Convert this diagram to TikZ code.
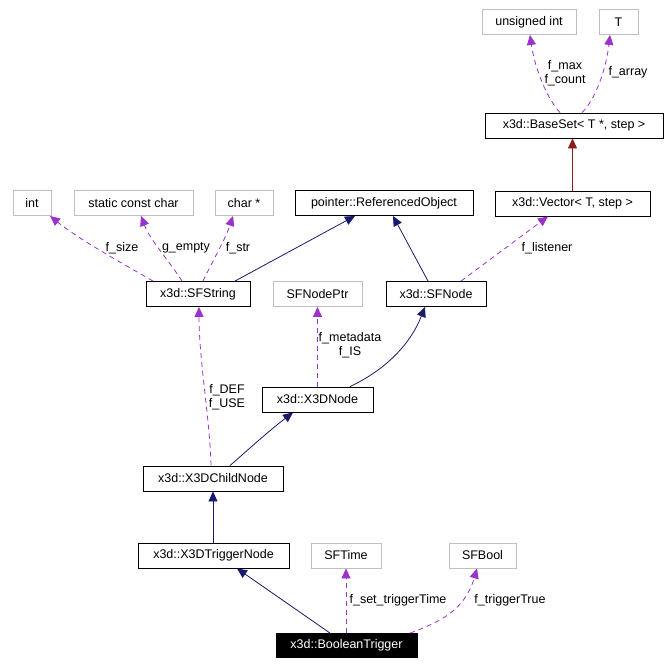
\documentclass[tikz,border=0pt]{standalone}
\usepackage{fontspec}
\setmainfont{Liberation Sans}
\usetikzlibrary{arrows.meta}
\definecolor{navyline}{HTML}{191970}
\definecolor{purpline}{HTML}{9A32CD}
\definecolor{redline}{HTML}{8B1A1A}
\definecolor{grayline}{HTML}{BFBFBF}
\begin{document}
\begin{tikzpicture}[x=1pt,y=-1pt,
  font=\fontsize{12.5}{14}\selectfont,
  box/.style={draw=black,line width=0.9pt,minimum height=25pt,inner sep=0pt,anchor=center},
  gbox/.style={box,draw=grayline},
  inh/.style={draw=navyline,line width=0.8pt,-{Triangle[length=10pt,width=9pt]}},
  inhred/.style={draw=redline,line width=0.8pt,-{Triangle[length=10pt,width=9pt]}},
  usage/.style={draw=purpline,line width=0.8pt,dash pattern=on 5pt off 4pt,-{Triangle[length=10pt,width=9pt]}},
  lbl/.style={align=center,inner sep=0pt,font=\fontsize{12.5}{14}\selectfont}]
\useasboundingbox (0,0) rectangle (668,666);
% nodes
\node[gbox,minimum width=94pt] (uint) at (529,22) {unsigned int};
\node[gbox,minimum width=39pt] (T) at (618.5,22) {T};
\node[box,minimum width=178pt] (baseset) at (574,125.5) {x3d::BaseSet< T *, step >};
\node[box,minimum width=155pt] (vector) at (572.5,203.5) {x3d::Vector< T, step >};
\node[gbox,minimum width=38pt] (int) at (32,203) {int};
\node[gbox,minimum width=119pt] (scc) at (133.5,203) {static const char};
\node[gbox,minimum width=58pt] (charp) at (244,203) {char *};
\node[box,minimum width=178pt] (refobj) at (384,203) {pointer::ReferencedObject};
\node[box,minimum width=104pt] (sfstring) at (198,294) {x3d::SFString};
\node[gbox,minimum width=89pt] (sfnodeptr) at (317.5,294) {SFNodePtr};
\node[box,minimum width=100pt] (sfnode) at (436,294) {x3d::SFNode};
\node[box,minimum width=111pt] (x3dnode) at (317.5,399.5) {x3d::X3DNode};
\node[box,minimum width=140pt] (x3dchild) at (213,478.5) {x3d::X3DChildNode};
\node[box,minimum width=151pt] (trig) at (213.5,555.5) {x3d::X3DTriggerNode};
\node[gbox,minimum width=70pt] (sftime) at (346,555.5) {SFTime};
\node[gbox,minimum width=67pt] (sfbool) at (482.5,555.5) {SFBool};
\node[box,minimum width=141pt,minimum height=24pt,fill=black,text=white] (bt) at (346.5,645.5) {x3d::BooleanTrigger};
% edges
\draw[inhred] (vector.north) -- (vector.north |- baseset.south);
\draw[usage] ([xshift=-14pt]baseset.north) .. controls (548,100) and (535,70) .. ([xshift=1pt]uint.south);
\draw[usage] ([xshift=8pt]baseset.north) .. controls (595,100) and (606,70) .. ([xshift=-8.5pt]T.south);
\node[lbl] (lmax) at (565,73) {f\_max\\f\_count};
\node[lbl] (larr) at (628,72) {f\_array};
\draw[inh] ([xshift=37pt]sfstring.north) -- ([xshift=-29pt]refobj.south);
\draw[inh] ([xshift=-8pt]sfnode.north) -- ([xshift=9pt]refobj.south);
\draw[usage] ([xshift=25pt]sfnode.north) -- ([xshift=-24.5pt]vector.south);
\node[lbl] (llis) at (547,248) {f\_listener};
\draw[usage] ([xshift=-45pt]sfstring.north) .. controls (120,262) and (80,240) .. ([xshift=18pt]int.south);
\node[lbl] (lsize) at (122,248) {f\_size};
\draw[usage] ([xshift=-16pt]sfstring.north) .. controls (170,262) and (150,240) .. ([xshift=7.5pt]scc.south);
\node[lbl] (lempty) at (186,248) {g\_empty};
\draw[usage] ([xshift=5pt]sfstring.north) .. controls (212,262) and (225,240) .. ([xshift=-11pt]charp.south);
\node[lbl] (lstr) at (238,248) {f\_str};
\draw[usage] (x3dnode.north -| sfnodeptr.south) -- (sfnodeptr.south);
\node[lbl] (lmeta) at (350,345) {f\_metadata\\f\_IS};
\draw[inh] ([xshift=32.5pt]x3dnode.north) .. controls (385,370) and (410,345) .. ([xshift=-11pt]sfnode.south);
\draw[usage] ([xshift=-2pt]x3dchild.north) .. controls (210,420) and (199,360) .. ([xshift=1pt]sfstring.south);
\node[lbl] (ldef) at (227,397.5) {f\_DEF\\f\_USE};
\draw[inh] ([xshift=17pt]x3dchild.north) .. controls (250,448) and (270,430) .. ([xshift=-24.5pt]x3dnode.south);
\draw[inh] (trig.north -| x3dchild.south) -- (x3dchild.south);
\draw[inh] ([xshift=-16.5pt]bt.north) -- ([xshift=23.5pt]trig.south);
\draw[usage] (bt.north -| sftime.south) -- (sftime.south);
\node[lbl] (lset) at (398,600) {f\_set\_triggerTime};
\draw[usage] ([xshift=63.5pt]bt.north) .. controls (440,622) and (465,610) .. ([xshift=-5.5pt]sfbool.south);
\node[lbl] (ltrue) at (510,600) {f\_triggerTrue};
\end{tikzpicture}
\end{document}
